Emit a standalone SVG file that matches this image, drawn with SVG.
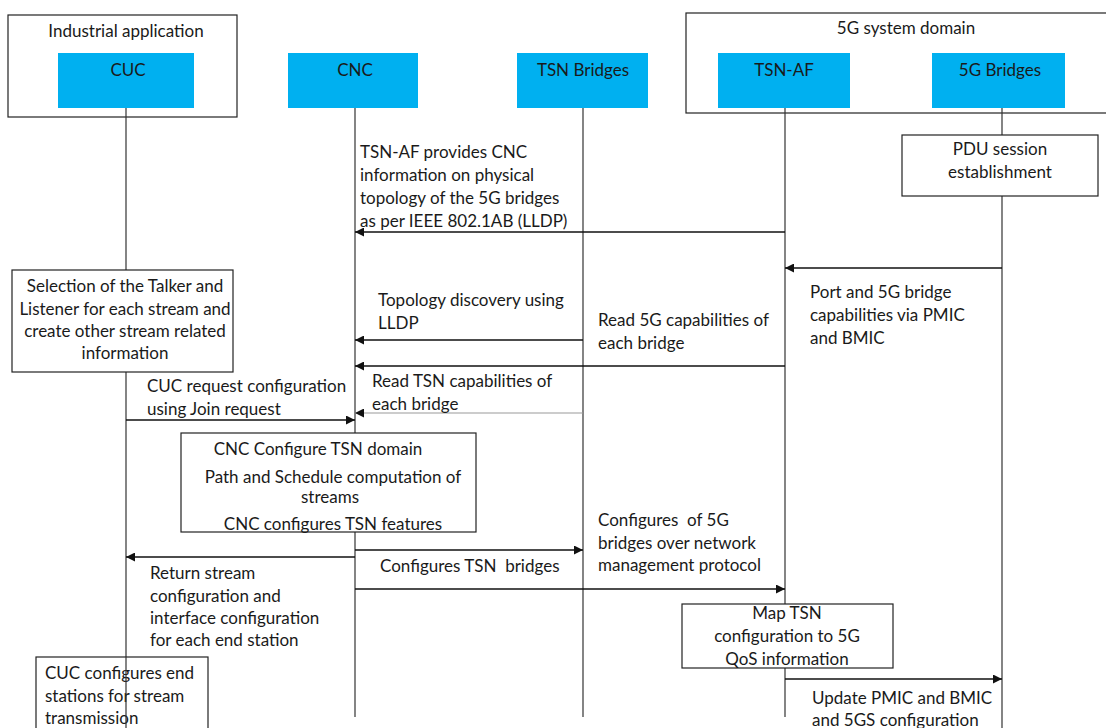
<svg xmlns="http://www.w3.org/2000/svg" width="1106" height="728" viewBox="0 0 1106 728">
  <style>
    text { font-family: Lato, "Open Sans", "Liberation Sans", sans-serif; font-size: 17px; fill: #1a1a1a; white-space: pre; }
    .c { text-anchor: middle; }
    .actor { fill: #00B0F0; stroke: none; }
    .frame { fill: #ffffff; stroke: #222; stroke-width: 1.2; }
    .box { fill: #ffffff; stroke: #222; stroke-width: 1.2; }
    .life { stroke: #333; stroke-width: 1.2; fill: none; }
    .msg { stroke: #111; stroke-width: 1.3; fill: none; }
    .thin { stroke: #999; stroke-width: 1; fill: none; }
  </style>
  <defs>
    <marker id="ah" viewBox="0 0 10 10" refX="10" refY="5" markerWidth="9" markerHeight="9" markerUnits="userSpaceOnUse" orient="auto">
      <path d="M0,0 L10,5 L0,10 z" fill="#111"/>
    </marker>
  </defs>

  <rect width="1106" height="728" fill="#ffffff"/>

  <!-- domain frames -->
  <g id="industrial-application">
    <rect class="frame" x="8" y="15" width="229" height="102"/>
    <text class="c" x="126" y="37">Industrial application</text>
  </g>
  <g id="5g-system-domain">
    <rect class="frame" x="686" y="13" width="430" height="100"/>
    <text class="c" x="906" y="34">5G system domain</text>
  </g>

  <!-- lifelines -->
  <g id="lifelines">
    <line class="life" x1="126" y1="108" x2="126" y2="728"/>
    <line class="life" x1="355" y1="108" x2="355" y2="717"/>
    <line class="life" x1="583" y1="108" x2="583" y2="717"/>
    <line class="life" x1="785" y1="108" x2="785" y2="717"/>
    <line class="life" x1="1002" y1="108" x2="1002" y2="728"/>
  </g>

  <!-- participants -->
  <g id="cuc">
    <rect class="actor" x="58" y="53" width="136" height="55"/>
    <text class="c" x="128" y="76">CUC</text>
  </g>
  <g id="cnc">
    <rect class="actor" x="288" y="53" width="130" height="55"/>
    <text class="c" x="355" y="76">CNC</text>
  </g>
  <g id="tsn-bridges">
    <rect class="actor" x="517" y="53" width="131" height="55"/>
    <text class="c" x="583" y="76">TSN Bridges</text>
  </g>
  <g id="tsn-af">
    <rect class="actor" x="718" y="53" width="132" height="55"/>
    <text class="c" x="784" y="76">TSN-AF</text>
  </g>
  <g id="5g-bridges">
    <rect class="actor" x="932" y="53" width="133" height="55"/>
    <text class="c" x="1000" y="76">5G Bridges</text>
  </g>

  <!-- activity boxes -->
  <g id="pdu-session">
    <rect class="box" x="902" y="135" width="196" height="61"/>
    <text class="c" x="1000" y="155">PDU session</text>
    <text class="c" x="1000" y="178">establishment</text>
  </g>
  <g id="talker-listener-selection">
    <rect class="box" x="12" y="270" width="221" height="102"/>
    <text class="c" x="125" y="292">Selection of the Talker and</text>
    <text class="c" x="125" y="315">Listener for each stream and</text>
    <text class="c" x="125" y="337">create other stream related</text>
    <text class="c" x="125" y="359">information</text>
  </g>
  <g id="cnc-configure">
    <rect class="box" x="181" y="433" width="295" height="99"/>
    <text class="c" x="318" y="455">CNC Configure TSN domain</text>
    <text class="c" x="333" y="483">Path and Schedule computation of</text>
    <text class="c" x="330" y="503">streams</text>
    <text class="c" x="333" y="530">CNC configures TSN features</text>
  </g>
  <g id="map-tsn-qos">
    <rect class="box" x="682" y="604" width="211" height="64"/>
    <text class="c" x="787" y="619">Map TSN</text>
    <text class="c" x="787" y="642">configuration to 5G</text>
    <text class="c" x="787" y="665">QoS information</text>
  </g>
  <g id="cuc-configure-stations">
    <rect class="box" x="36" y="657" width="172" height="80"/>
    <text x="45" y="679">CUC configures end</text>
    <text x="45" y="702">stations for stream</text>
    <text x="45" y="724">transmission</text>
  </g>
  <!-- CUC lifeline drawn over its own box -->
  <line class="life" x1="126" y1="657" x2="126" y2="728"/>

  <!-- messages -->
  <g id="connectors">
    <line class="msg" x1="785" y1="232" x2="355" y2="232" marker-end="url(#ah)"/>
    <line class="msg" x1="1002" y1="268" x2="785" y2="268" marker-end="url(#ah)"/>
    <line class="msg" x1="583" y1="340" x2="355" y2="340" marker-end="url(#ah)"/>
    <line class="msg" x1="785" y1="366" x2="355" y2="366" marker-end="url(#ah)"/>
    <line class="thin" x1="583" y1="413" x2="355" y2="413" marker-end="url(#ah)"/>
    <line class="msg" x1="126" y1="420" x2="355" y2="420" marker-end="url(#ah)"/>
    <line class="msg" x1="355" y1="550" x2="583" y2="550" marker-end="url(#ah)"/>
    <line class="msg" x1="355" y1="557" x2="126" y2="557" marker-end="url(#ah)"/>
    <line class="msg" x1="355" y1="589" x2="785" y2="589" marker-end="url(#ah)"/>
    <line class="msg" x1="785" y1="679" x2="1002" y2="679" marker-end="url(#ah)"/>
  </g>

  <!-- message labels -->
  <g id="labels">
    <text x="360" y="158">TSN-AF provides CNC</text>
    <text x="360" y="181">information on physical</text>
    <text x="360" y="204">topology of the 5G bridges</text>
    <text x="360" y="227">as per IEEE 802.1AB (LLDP)</text>

    <text x="810" y="298">Port and 5G bridge</text>
    <text x="810" y="321">capabilities via PMIC</text>
    <text x="810" y="344">and BMIC</text>

    <text x="378" y="306">Topology discovery using</text>
    <text x="378" y="329">LLDP</text>

    <text x="598" y="326">Read 5G capabilities of</text>
    <text x="598" y="349">each bridge</text>

    <text x="372" y="387">Read TSN capabilities of</text>
    <text x="372" y="410">each bridge</text>

    <text x="147" y="392">CUC request configuration</text>
    <text x="147" y="415">using Join request</text>

    <text x="598" y="526">Configures  of 5G</text>
    <text x="598" y="549">bridges over network</text>
    <text x="598" y="571">management protocol</text>

    <text x="380" y="572">Configures TSN  bridges</text>

    <text x="150" y="579">Return stream</text>
    <text x="150" y="602">configuration and</text>
    <text x="150" y="624">interface configuration</text>
    <text x="150" y="646">for each end station</text>

    <text x="812" y="704">Update PMIC and BMIC</text>
    <text x="812" y="726">and 5GS configuration</text>
  </g>
</svg>
